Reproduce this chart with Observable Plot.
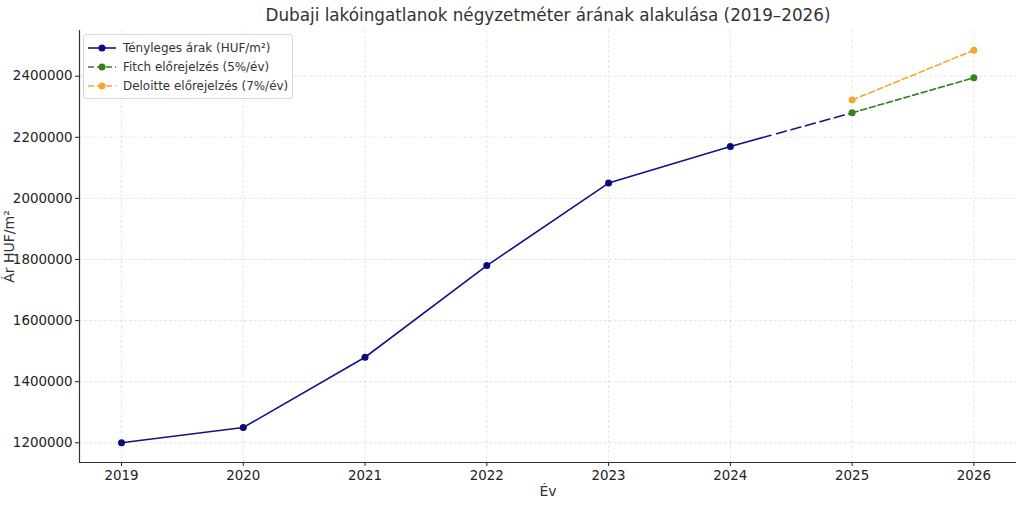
<!DOCTYPE html>
<html>
<head>
<meta charset="utf-8">
<script src="https://cdn.jsdelivr.net/npm/d3@7"></script>
<script src="https://cdn.jsdelivr.net/npm/@observablehq/plot@0.6"></script>
<style>
  html, body { margin: 0; padding: 0; background: #fff; }
  #wrap { position: relative; width: 1024px; height: 508px; font-family: "DejaVu Sans", sans-serif; }
  #legend { position: absolute; left: 83px; top: 34px; width: 208px; padding: 3px 0 3px 0;
            background: rgba(255,255,255,0.85); border: 1px solid #d6d6d6; border-radius: 3px;
            font-size: 11.95px; color: #333; }
  .row { display: flex; align-items: center; height: 19px; }
  .row svg { margin-left: 4px; margin-right: 7px; }
</style>
</head>
<body>
<div id="wrap"><div id="chart"></div><div id="legend"></div></div>
<script>
const years = [2019, 2020, 2021, 2022, 2023, 2024];
const actual = [1200000, 1250000, 1480000, 1780000, 2050000, 2170000];
const forecastYears = [2024, 2025, 2026];
const fitch = [2170000, 2280000, 2395000];
const deloitte = [null, 2322000, 2485000];
const xTicks = [2019, 2020, 2021, 2022, 2023, 2024, 2025, 2026];
const yTicks = [1200000, 1400000, 1600000, 1800000, 2000000, 2200000, 2400000];

const navy = "#131385";
const navyDot = "#0a0a7a";
const green = "#35801f";
const orange = "#f5a733";

const actualData = years.map((y, i) => ({year: y, value: actual[i]}));
const bridge = [{year: forecastYears[0], value: fitch[0]}, {year: forecastYears[1], value: fitch[1]}];
const fitchData = forecastYears.slice(1).map((y, i) => ({year: y, value: fitch[i + 1]}));
const delData = forecastYears.slice(1).map((y, i) => ({year: y, value: deloitte[i + 1]}));

const chart = Plot.plot({
  width: 1024,
  height: 508,
  marginLeft: 79,
  marginRight: 8,
  marginTop: 30,
  marginBottom: 46,
  style: {fontFamily: "DejaVu Sans, sans-serif", fontSize: "13px", color: "#222", background: "#fff"},
  x: {domain: [2018.655, 2026.35], ticks: xTicks, tickFormat: d => String(d), tickSize: 4, label: null},
  y: {domain: [1135500, 2549500], ticks: yTicks, tickFormat: d => String(d), tickSize: 4, label: null},
  marks: [
    Plot.gridX(xTicks, {stroke: "#b0b0b0", strokeOpacity: 0.4, strokeDasharray: "3,2", strokeWidth: 0.8}),
    Plot.gridY(yTicks, {stroke: "#b0b0b0", strokeOpacity: 0.4, strokeDasharray: "3,2", strokeWidth: 0.8}),
    Plot.axisX({ticks: xTicks, tickFormat: d => String(d), tickSize: 4, tickPadding: 4, fontSize: 13.4, label: null}),
    Plot.axisY({ticks: yTicks, tickFormat: d => String(d), tickSize: 4, tickPadding: 3, fontSize: 13.4, label: null}),
    Plot.ruleY([1135500], {stroke: "#333", strokeWidth: 1.2}),
    Plot.ruleX([2018.655], {stroke: "#333", strokeWidth: 1.2}),
    Plot.line(bridge, {x: "year", y: "value", stroke: navy, strokeWidth: 1.6, strokeDasharray: "42,6,10,5,10,5,10,5,10,5,10,5,10,5"}),
    Plot.line(fitchData, {x: "year", y: "value", stroke: green, strokeWidth: 1.6, strokeDasharray: "6,3"}),
    Plot.line(delData, {x: "year", y: "value", stroke: orange, strokeWidth: 1.6, strokeDasharray: "6,3"}),
    Plot.line(actualData, {x: "year", y: "value", stroke: navy, strokeWidth: 1.6}),
    Plot.dot(actualData, {x: "year", y: "value", r: 3.5, fill: navyDot, stroke: "none"}),
    Plot.dot(fitchData, {x: "year", y: "value", r: 3.5, fill: green, stroke: "none"}),
    Plot.dot(delData, {x: "year", y: "value", r: 3.5, fill: orange, stroke: "none"}),
    Plot.text(["Dubaji lakóingatlanok négyzetméter árának alakulása (2019–2026)"], {frameAnchor: "top", dy: -21, fontSize: 16.8, fill: "#333", text: d => d}),
    Plot.text(["Év"], {frameAnchor: "bottom", dy: 33, fontSize: 14, fill: "#333", text: d => d}),
    Plot.text(["Ár HUF/m²"], {frameAnchor: "left", dx: -70, rotate: -90, textAnchor: "middle", fontSize: 14, fill: "#333", text: d => d})
  ]
});
document.getElementById("chart").appendChild(chart);

const legendItems = [
  {label: "Tényleges árak (HUF/m²)", color: navy, dot: navyDot, dash: null},
  {label: "Fitch előrejelzés (5%/év)", color: green, dot: green, dash: "6,3"},
  {label: "Deloitte előrejelzés (7%/év)", color: orange, dot: orange, dash: "6,3"}
];
const lg = document.getElementById("legend");
for (const it of legendItems) {
  const row = document.createElement("div");
  row.className = "row";
  row.innerHTML = `<svg width="28" height="10"><line x1="0" y1="5" x2="28" y2="5" stroke="${it.color}" stroke-width="1.6" ${it.dash ? `stroke-dasharray="${it.dash}"` : ""}/><circle cx="14" cy="5" r="3.5" fill="${it.dot}"/></svg><span>${it.label}</span>`;
  lg.appendChild(row);
}
</script>
</body>
</html>
